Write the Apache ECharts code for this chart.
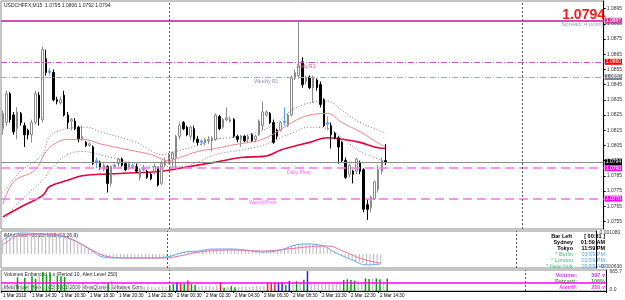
<!DOCTYPE html>
<html>
<head>
<meta charset="utf-8">
<script src="https://cdn.jsdelivr.net/npm/echarts@6/dist/echarts.min.js"></script>
<style>
  html, body { margin: 0; background: #fff; }
  #chart { width: 625px; height: 300px; }
</style>
</head>
<body>
<div id="chart"></div>
<script>
// USDCHF M15 bars: [open, close, low, high]
const candles = [
  [1.0816,1.0826,1.0812,1.0828],[1.0820,1.0839,1.0818,1.0841],[1.0839,1.0822,1.0820,1.0840],[1.0825,1.0814,1.0812,1.0827],
  [1.0816,1.0827,1.0809,1.0830],[1.0826,1.0820,1.0818,1.0827],[1.0818,1.0812,1.0804,1.0820],[1.0815,1.0812,1.0809,1.0816],
  [1.0812,1.0820,1.0807,1.0822],[1.0820,1.0839,1.0819,1.0841],[1.0838,1.0823,1.0818,1.0840],[1.0822,1.0868,1.0820,1.0870],
  [1.0862,1.0853,1.0851,1.0868],[1.0853,1.0854,1.0851,1.0856],[1.0853,1.0835,1.0834,1.0855],[1.0835,1.0834,1.0832,1.0837],
  [1.0833,1.0835,1.0832,1.0837],[1.0838,1.0825,1.0824,1.0841],[1.0825,1.0820,1.0816,1.0827],[1.0821,1.0822,1.0815,1.0823],
  [1.0821,1.0816,1.0815,1.0823],[1.0817,1.0809,1.0807,1.0818],[1.0809,1.0811,1.0808,1.0818],[1.0807,1.0805,1.0804,1.0808],
  [1.0805,1.0806,1.0804,1.0807],[1.0804,1.0793,1.0792,1.0805],[1.0794,1.0795,1.0790,1.0797],[1.0794,1.0790,1.0789,1.0795],
  [1.0789,1.0792,1.0788,1.0793],[1.0791,1.0780,1.0774,1.0792],[1.0780,1.0791,1.0778,1.0792],[1.0791,1.0792,1.0790,1.0793],
  [1.0793,1.0796,1.0791,1.0797],[1.0796,1.0792,1.0791,1.0797],[1.0793,1.0789,1.0788,1.0794],[1.0790,1.0793,1.0789,1.0794],
  [1.0791,1.0792,1.0790,1.0793],[1.0791,1.0788,1.0787,1.0793],[1.0784,1.0789,1.0782,1.0790],[1.0789,1.0790,1.0788,1.0792],
  [1.0788,1.0784,1.0783,1.0789],[1.0786,1.0783,1.0782,1.0787],[1.0788,1.0791,1.0786,1.0793],[1.0790,1.0779,1.0778,1.0791],
  [1.0780,1.0793,1.0779,1.0795],[1.0792,1.0795,1.0791,1.0797],[1.0794,1.0799,1.0793,1.0800],[1.0796,1.0800,1.0791,1.0801],
  [1.0797,1.0811,1.0790,1.0812],[1.0811,1.0818,1.0809,1.0820],[1.0820,1.0816,1.0815,1.0821],[1.0817,1.0812,1.0811,1.0818],
  [1.0811,1.0817,1.0809,1.0818],[1.0816,1.0809,1.0807,1.0818],[1.0809,1.0807,1.0805,1.0811],[1.0807,1.0808,1.0805,1.0809],
  [1.0807,1.0809,1.0805,1.0810],[1.0808,1.0809,1.0806,1.0811],[1.0808,1.0810,1.0801,1.0811],[1.0809,1.0825,1.0808,1.0826],
  [1.0824,1.0816,1.0815,1.0825],[1.0817,1.0822,1.0816,1.0823],[1.0822,1.0823,1.0821,1.0830],[1.0821,1.0822,1.0820,1.0824],
  [1.0822,1.0811,1.0810,1.0823],[1.0811,1.0809,1.0807,1.0812],[1.0809,1.0811,1.0804,1.0812],[1.0811,1.0808,1.0807,1.0812],
  [1.0809,1.0811,1.0807,1.0812],[1.0812,1.0808,1.0807,1.0813],[1.0809,1.0811,1.0807,1.0812],[1.0812,1.0821,1.0811,1.0822],
  [1.0818,1.0827,1.0815,1.0834],[1.0825,1.0827,1.0824,1.0828],[1.0826,1.0820,1.0819,1.0827],[1.0820,1.0807,1.0806,1.0822],
  [1.0815,1.0811,1.0809,1.0816],[1.0815,1.0820,1.0814,1.0821],[1.0820,1.0821,1.0818,1.0830],[1.0818,1.0825,1.0817,1.0826],
  [1.0825,1.0849,1.0824,1.0851],[1.0849,1.0853,1.0848,1.0855],[1.0851,1.0857,1.0849,1.0887],[1.0860,1.0845,1.0843,1.0863],
  [1.0847,1.0850,1.0845,1.0851],[1.0850,1.0843,1.0842,1.0851],[1.0843,1.0850,1.0833,1.0851],[1.0848,1.0843,1.0841,1.0849],
  [1.0845,1.0832,1.0830,1.0847],[1.0835,1.0818,1.0817,1.0836],[1.0819,1.0820,1.0815,1.0824],[1.0818,1.0812,1.0803,1.0820],
  [1.0813,1.0810,1.0809,1.0814],[1.0810,1.0804,1.0793,1.0811],[1.0807,1.0795,1.0794,1.0808],[1.0795,1.0784,1.0783,1.0797],
  [1.0786,1.0792,1.0784,1.0793],[1.0788,1.0786,1.0780,1.0789],[1.0788,1.0796,1.0786,1.0797],[1.0794,1.0788,1.0786,1.0795],
  [1.0789,1.0763,1.0761,1.0790],[1.0766,1.0763,1.0756,1.0769],[1.0764,1.0771,1.0761,1.0772],[1.0770,1.0781,1.0769,1.0782],
  [1.0776,1.0789,1.0774,1.0792],[1.0788,1.0795,1.0786,1.0797],[1.0795,1.0794,1.0792,1.0806]
];
const dojiBlue = [13, 26, 31, 36, 39, 55, 78, 90];

// moving averages and envelope, [bar, price]
const maSlow = [[0,1.0758],[5,1.07645],[11,1.0772],[13,1.0778],[18,1.0782],[22,1.0785],[27,1.0786],[37,1.0787],[44,1.0788],
  [49,1.0790],[54,1.0792],[59,1.0794],[66,1.0797],[73,1.0798],[77,1.0802],[80,1.0804],[85,1.0807],[90,1.0810],[94,1.0809],
  [99,1.0807],[103,1.0804],[106,1.0803]];
const maFast = [[0,1.0766],[3,1.0781],[9,1.0789],[12,1.0801],[15,1.0807],[18,1.0809],[22,1.0809],[27,1.0806],[35,1.0802],
  [41,1.0799],[46,1.0795],[49,1.0797],[54,1.0801],[59,1.0803],[63,1.0805],[68,1.0807],[72,1.0809],[76,1.0814],[80,1.0820],
  [85,1.0825],[90,1.0826],[94,1.0820],[99,1.0814],[103,1.0808],[106,1.0804]];
const bandUp = [[0,1.0774],[5,1.0788],[11,1.0799],[13,1.0811],[18,1.0816],[23,1.0817],[27,1.0814],[37,1.0807],[40,1.0803],
  [44,1.0799],[48,1.0801],[54,1.0805],[59,1.0809],[66,1.0811],[72,1.0815],[76,1.0820],[80,1.0828],[85,1.0833],[90,1.0834],
  [94,1.0828],[99,1.0820],[103,1.0816],[106,1.0813]];
const bandDn = [[0,1.0755],[5,1.0769],[11,1.0782],[14,1.0791],[18,1.0799],[22,1.0801],[25,1.0800],[30,1.0797],[37,1.0793],
  [41,1.0791],[44,1.0791],[49,1.0791],[54,1.0794],[59,1.0799],[66,1.0802],[72,1.0805],[77,1.0810],[80,1.0813],[85,1.0817],
  [90,1.0816],[94,1.0810],[99,1.0801],[103,1.0797],[106,1.0794]];

// MACD panel
const macdHist = [0.0007,0.00085,0.00095,0.001,0.00105,0.00105,0.00105,0.00105,0.00105,0.001,0.001,0.001,0.001,0.00095,
  0.00095,0.0009,0.00085,0.0008,0.00075,0.0007,0.0006,0.0005,0.00045,0.00035,0.0003,0.00015,0.00005,-0.00005,-0.00015,
  -0.0002,-0.0002,-0.0002,-0.0002,-0.0002,-0.0002,-0.0002,-0.0002,-0.0002,-0.0002,-0.0002,-0.0002,-0.0002,-0.0002,-0.0002,
  -0.0002,-0.0002,-0.00015,-0.0001,-0.00005,0.00005,0.0001,0.0001,0.00015,0.00015,0.00015,0.00015,0.0002,0.0002,0.0002,
  0.00025,0.00025,0.00025,0.00025,0.00025,0.00025,0.0002,0.0002,0.0002,0.0002,0.0002,0.00015,0.00015,0.0001,0.0001,0.0001,
  0.00015,0.00015,0.0002,0.0002,0.0003,0.00035,0.0004,0.00045,0.0005,0.0005,0.0005,0.0005,0.0005,0.00045,0.00045,0.0004,
  0.0003,0.0002,0.0001,0,-0.00005,-0.00015,-0.0002,-0.0003,-0.00035,-0.0004,-0.00045,-0.00055,-0.00055,-0.00055,-0.0005,-0.0005];
const macdBlue = [[0,0.0007],[5,0.00105],[13,0.00095],[18,0.0008],[24,0.0003],[28,-0.00015],[32,-0.0002],[41,-0.0002],
  [46,-0.00015],[51,0.0001],[55,0.00015],[59,0.00025],[64,0.00025],[68,0.0002],[73,0.0001],[78,0.0002],[82,0.00045],
  [85,0.0005],[90,0.0004],[93,0.0001],[98,-0.0003],[102,-0.00055],[106,-0.0005]];
const macdPink = [[0,0.00045],[5,0.00095],[13,0.001],[18,0.00085],[25,0.0002],[30,-0.00015],[36,-0.0002],[45,-0.0002],
  [51,-0.00005],[55,0.0001],[64,0.0002],[73,0.00015],[80,0.00025],[85,0.00035],[91,0.0004],[96,0.0001],[100,-0.0002],
  [104,-0.0004],[106,-0.00045]];

// Volumes Enhanced panel
const volumes = [120,150,180,200,430,210,420,250,470,380,520,600,520,560,300,480,470,450,230,200,180,220,250,190,160,200,
  220,170,180,260,330,200,150,140,160,130,150,120,140,130,150,120,110,140,160,130,180,220,280,250,230,330,220,200,150,160,
  150,170,140,180,280,110,140,160,120,130,150,140,130,150,160,150,170,280,280,270,280,280,190,320,240,310,250,360,630,230,
  240,220,230,250,240,230,250,240,350,370,350,330,300,250,400,380,390,400,370,300,397];
const volType = 'wwwwgwgwggwgggwgggwwwwwwwwwwwgwwwwwwwwwwwwwwwwggbrgrggwwwwwwrgwggwwwwwwwwrrrbbgbwgwgbwwwwwwwwwggggwwggwggwg';
const volColors = { g: '#00a000', r: '#ff2020', b: '#2020ff', w: '#c4c4c4' };
const alertLevel = 250;

const priceTicks = [1.0755,1.0765,1.0775,1.0785,1.0795,1.0805,1.0815,1.0825,1.0835,1.0845,1.0855,1.0865,1.0875,1.0885,1.0895];
const timeTicks = ['1 Mar 2010','1 Mar 14:30','1 Mar 16:30','1 Mar 18:30','1 Mar 20:30','1 Mar 22:30','2 Mar 00:30',
  '2 Mar 02:30','2 Mar 04:30','2 Mar 06:30','2 Mar 08:30','2 Mar 10:30','2 Mar 12:30','2 Mar 14:30'];
const slots = 167;          // bars + empty chart shift on the right
const daySeparators = [46, 144];

const levels = [
  { v: 1.0887, color: '#d84cb8', type: 'solid', w: 2, box: '#c8389c' },
  { v: 1.0860, color: '#d24fd0', type: [6, 2, 1, 2], w: 1, box: '#ff0000' },
  { v: 1.0850, color: '#a6abc4', type: [6, 2, 1, 2], w: 1, box: '#7f8794' },
  { v: 1.0794, color: '#8c8c8c', type: 'solid', w: 1, box: '#000000' },
  { v: 1.0790, color: '#ff6cff', type: [9, 5], w: 1.5, box: '#ff00ff' },
  { v: 1.0770, color: '#ff6cff', type: [9, 5], w: 1.5, box: '#ff00ff' }
];
const pivotNames = [
  { name: 'Daily R1', at: [84, 1.0860], color: '#e0507a' },
  { name: 'Weekly R1', at: [73, 1.0850], color: '#8a92a6' },
  { name: 'Daily Pivot', at: [82, 1.0790], color: '#ff5cff' },
  { name: 'WeeklyPivot', at: [72, 1.0770], color: '#ff5cff' }
];

const cats = [];
for (let i = 0; i < slots; i++) cats.push(i);
const showTick = (i) => i % 8 === 0 && i / 8 < timeTicks.length;

const chart = echarts.init(document.getElementById('chart'));
const font = 'Liberation Sans';

const candleData = candles.map((c, i) => {
  if (dojiBlue.indexOf(i) >= 0) {
    return { value: c, itemStyle: { color: '#5aa2ff', color0: '#5aa2ff', borderColor: '#5aa2ff', borderColor0: '#5aa2ff' } };
  }
  return c;
});

const sepData = daySeparators.map((d) => ({ xAxis: d, lineStyle: { color: '#555', type: [2, 2], width: 1 }, label: { show: false } }));

const xBase = {
  type: 'category', data: cats, boundaryGap: true,
  axisLine: { show: false }, axisTick: { show: false }, axisLabel: { show: false }
};

chart.setOption({
  animation: false,
  textStyle: { fontFamily: font },
  grid: [
    { left: 1, right: 18, top: 1, height: 228, show: true, borderColor: '#8a8a8a', borderWidth: 1 },
    { left: 1, right: 18, top: 231, height: 37, show: true, borderColor: '#8a8a8a', borderWidth: 1 },
    { left: 1, right: 18, top: 270, height: 21, show: true, borderColor: '#8a8a8a', borderWidth: 1 }
  ],
  xAxis: [
    Object.assign({ gridIndex: 0 }, xBase),
    Object.assign({ gridIndex: 1 }, xBase),
    {
      gridIndex: 2, type: 'category', data: cats, boundaryGap: true,
      axisLine: { lineStyle: { color: '#000' } },
      axisTick: { show: true, interval: showTick, length: 2, lineStyle: { color: '#000' } },
      axisLabel: {
        interval: showTick, align: 'left', margin: 2, fontSize: 4.6, color: '#000', hideOverlap: false,
        formatter: (v, i) => timeTicks[i / 8] || ''
      }
    }
  ],
  yAxis: [
    {
      gridIndex: 0, type: 'value', position: 'right', min: 1.0750, max: 1.0900,
      splitLine: { show: false },
      axisLine: { show: true, lineStyle: { color: '#000' } },
      axisTick: { show: true, length: 2, customValues: priceTicks },
      axisLabel: { fontSize: 5, color: '#333', margin: 3, customValues: priceTicks, formatter: (v) => v.toFixed(4) }
    },
    {
      gridIndex: 1, type: 'value', position: 'right', min: -0.0007, max: 0.00115,
      splitLine: { show: false },
      axisLine: { show: true, lineStyle: { color: '#000' } },
      axisTick: { show: false },
      axisLabel: { fontSize: 5, color: '#333', margin: 3, customValues: [0.00108, -0.00063], formatter: (v) => v.toFixed(6) }
    },
    {
      gridIndex: 2, type: 'value', position: 'right', min: 0, max: 665.7,
      splitLine: { show: false },
      axisLine: { show: true, lineStyle: { color: '#000' } },
      axisTick: { show: false },
      axisLabel: { fontSize: 5, color: '#333', margin: 3, customValues: [620, 40], formatter: (v) => v > 300 ? '665.7' : '0.0' }
    }
  ],
  series: [
    {
      type: 'candlestick', xAxisIndex: 0, yAxisIndex: 0, data: candleData, barWidth: 2,
      itemStyle: { color: '#ffffff', color0: '#000000', borderColor: '#8a8a8a', borderColor0: '#000000', borderWidth: 1 },
      markPoint: {
        silent: true, symbol: 'circle', symbolSize: 0,
        data: pivotNames.map((p) => ({
          coord: p.at,
          label: { show: true, formatter: p.name, position: 'bottom', distance: 2, fontSize: 5, color: p.color }
        }))
      }
    },
    { type: 'line', xAxisIndex: 0, yAxisIndex: 0, data: bandUp, smooth: 0.4, symbol: 'none',
      lineStyle: { color: '#555', width: 0.8, type: [1, 2] } },
    { type: 'line', xAxisIndex: 0, yAxisIndex: 0, data: bandDn, smooth: 0.4, symbol: 'none',
      lineStyle: { color: '#555', width: 0.8, type: [1, 2] } },
    { type: 'line', xAxisIndex: 0, yAxisIndex: 0, data: maFast, smooth: 0.4, symbol: 'none',
      lineStyle: { color: '#f28090', width: 1 } },
    {
      type: 'line', xAxisIndex: 0, yAxisIndex: 0, data: maSlow, smooth: 0.4, symbol: 'none', z: 1,
      lineStyle: { color: '#e8003c', width: 1.6 },
      markLine: {
        silent: true, symbol: 'none', animation: false, precision: 4,
        data: levels.map((l) => ({
          yAxis: l.v,
          lineStyle: { color: l.color, type: l.type, width: l.w },
          label: {
            show: true, position: 'end', distance: 1, formatter: l.v.toFixed(4), color: '#fff',
            backgroundColor: l.box, fontSize: 5, padding: [1, 1, 0, 1]
          }
        })).concat(sepData)
      }
    },

    { type: 'bar', xAxisIndex: 1, yAxisIndex: 1, data: macdHist, barWidth: 1,
      itemStyle: { color: '#b8b8b8' },
      markLine: { silent: true, symbol: 'none', label: { show: false }, data: sepData } },
    { type: 'line', xAxisIndex: 1, yAxisIndex: 1, data: macdBlue, smooth: 0.4, symbol: 'none',
      lineStyle: { color: '#63a7f2', width: 1 } },
    { type: 'line', xAxisIndex: 1, yAxisIndex: 1, data: macdPink, smooth: 0.4, symbol: 'none',
      lineStyle: { color: '#f0709c', width: 1 } },

    {
      type: 'bar', xAxisIndex: 2, yAxisIndex: 2, barWidth: 1.5,
      data: volumes.map((v, i) => ({ value: v, itemStyle: { color: volColors[volType[i]] || '#c4c4c4' } })),
      markLine: {
        silent: true, symbol: 'none', label: { show: false }, precision: 1,
        data: [
          { yAxis: alertLevel, lineStyle: { color: '#ff00ff', type: 'solid', width: 1.5 } }
        ].concat(sepData)
      }
    }
  ],
  graphic: [
    { type: 'text', left: 4, top: 3, style: { text: 'USDCHFFX,M15  1.0795 1.0806 1.0792 1.0794', fontSize: 5, fill: '#222', fontFamily: font } },
    { type: 'text', right: 20, top: 8, style: { text: '1.0794', fontSize: 14, fontWeight: 'bold', fill: '#ff1a1a', fontFamily: font } },
    { type: 'text', right: 20, top: 21, style: { text: 'Spread: 4 points', fontSize: 6, fill: '#8ea0c8', fontFamily: font } },
    { type: 'text', left: 4, top: 233, style: { text: 'iMA Cross - 00:20, M15 (13,26,9)', fontSize: 5, fill: '#222', fontFamily: font } },
    { type: 'text', right: 53, top: 233, style: { text: 'Bar Left', fontSize: 5.5, fontWeight: 'bold', fill: '#000', fontFamily: font } },
    { type: 'text', right: 20, top: 233, style: { text: '[ 00:31 ]', fontSize: 5.5, fontWeight: 'bold', fill: '#000', fontFamily: font } },
    { type: 'text', right: 52, top: 239, style: { text: 'Sydney', fontSize: 5.5, fontWeight: 'bold', fill: '#000', fontFamily: font } },
    { type: 'text', right: 20, top: 239, style: { text: '01:59 AM', fontSize: 5.5, fontWeight: 'bold', fill: '#000', fontFamily: font } },
    { type: 'text', right: 52, top: 245, style: { text: 'Tokyo', fontSize: 5.5, fontWeight: 'bold', fill: '#000', fontFamily: font } },
    { type: 'text', right: 20, top: 245, style: { text: '11:59 PM', fontSize: 5.5, fontWeight: 'bold', fill: '#000', fontFamily: font } },
    { type: 'text', right: 52, top: 251, style: { text: '* Berlin', fontSize: 5.5, fill: '#3cbf7a', fontFamily: font } },
    { type: 'text', right: 20, top: 251, style: { text: '03:59 PM', fontSize: 5.5, fill: '#4aa4f4', fontFamily: font } },
    { type: 'text', right: 52, top: 257, style: { text: '* London', fontSize: 5.5, fill: '#3cbf7a', fontFamily: font } },
    { type: 'text', right: 20, top: 257, style: { text: '02:59 PM', fontSize: 5.5, fill: '#4aa4f4', fontFamily: font } },
    { type: 'text', right: 52, top: 263, style: { text: '* New York', fontSize: 5.5, fill: '#3cbf7a', fontFamily: font } },
    { type: 'text', right: 20, top: 263, style: { text: '09:59 AM', fontSize: 5.5, fill: '#4aa4f4', fontFamily: font } },
    { type: 'text', left: 4, top: 272, style: { text: 'Volumes Enhanced 1.x (Period 10, Alert Level 250)', fontSize: 5, fill: '#222', fontFamily: font } },
    { type: 'text', left: 4, top: 285, style: { text: 'MetaTrader Hele ... (C) 2001-2009 MetaQuotes Software Corp.', fontSize: 5, fill: '#222', fontFamily: font } },
    { type: 'text', right: 48, top: 272, style: { text: 'Volume:', fontSize: 5.5, fontWeight: 'bold', fill: '#c03cf0', fontFamily: font } },
    { type: 'text', right: 20, top: 272, style: { text: '397 v', fontSize: 5.5, fontWeight: 'bold', fill: '#c03cf0', fontFamily: font } },
    { type: 'text', right: 48, top: 278, style: { text: 'Percent:', fontSize: 5.5, fontWeight: 'bold', fill: '#3caa3c', fontFamily: font } },
    { type: 'text', right: 20, top: 278, style: { text: '106%', fontSize: 5.5, fontWeight: 'bold', fill: '#3caa3c', fontFamily: font } },
    { type: 'text', right: 48, top: 284, style: { text: 'AlertV:', fontSize: 5.5, fontWeight: 'bold', fill: '#ff30ff', fontFamily: font } },
    { type: 'text', right: 20, top: 284, style: { text: '250 v', fontSize: 5.5, fontWeight: 'bold', fill: '#ff30ff', fontFamily: font } }
  ]
});
</script>
</body>
</html>
